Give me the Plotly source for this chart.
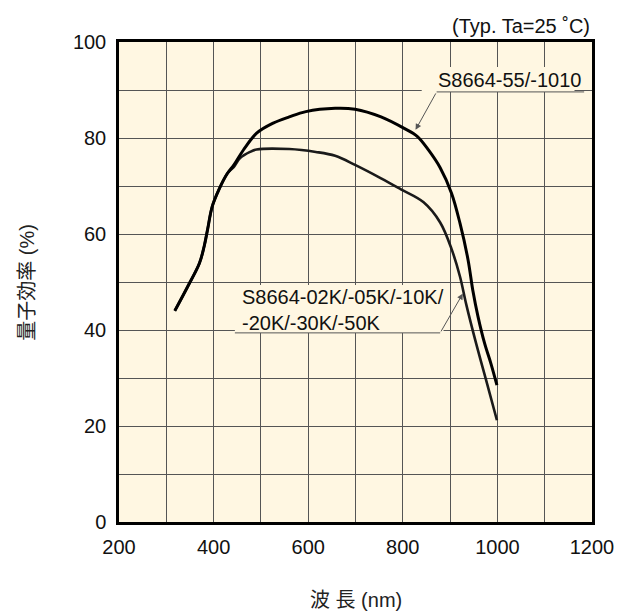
import plotly.graph_objects as go

# Wavelength (nm) and quantum efficiency (%)
wl_55 = [318, 345, 370, 380, 387, 397, 411, 429, 443, 463, 491, 526, 560, 595, 657, 699,
         754, 803, 831, 855, 879, 903, 921, 938, 948, 959, 973, 986, 999]
qe_55 = [44.0, 49.0, 53.9, 57.4, 60.8, 65.7, 69.2, 72.6, 74.4, 77.5, 81.0, 83.1, 84.4, 85.5, 86.2, 86.0,
         84.4, 82.0, 80.3, 77.4, 73.8, 68.5, 62.2, 54.6, 48.3, 42.8, 37.2, 33.1, 28.5]

wl_k = [318, 345, 370, 380, 387, 397, 411, 429, 443, 456, 477, 491, 560, 616, 657, 699,
        754, 796, 844, 879, 903, 921, 934, 955, 976, 999]
qe_k = [44.0, 49.0, 53.9, 57.4, 60.8, 65.7, 69.2, 72.6, 74.0, 75.8, 77.1, 77.6, 77.7, 77.1, 76.3, 74.4,
        71.6, 69.3, 66.6, 62.4, 56.9, 51.1, 45.4, 37.2, 29.6, 21.2]

label_55 = "S8664-55/-1010"
label_k = "S8664-02K/-05K/-10K/<br>-20K/-30K/-50K"
note = "(Typ. Ta=25 ˚C)"
x_title = "波 長 (nm)"
y_title = "量子効率 (%)"

FONT = "Liberation Sans, Arial, Noto Sans CJK JP, sans-serif"
BG = "#FFF7E2"
GRID = "#555555"
FS = 20

fig = go.Figure()
fig.add_trace(go.Scatter(x=wl_k, y=qe_k, mode="lines",
                         line=dict(color="#1a1a1a", width=2.6, shape="spline", smoothing=1.0),
                         showlegend=False, hoverinfo="skip"))
fig.add_trace(go.Scatter(x=wl_55, y=qe_55, mode="lines",
                         line=dict(color="#000000", width=3, shape="spline", smoothing=1.0),
                         showlegend=False, hoverinfo="skip"))

axis_common = dict(showline=True, linecolor="black", linewidth=2.5, mirror=True,
                   showgrid=True, gridcolor=GRID, gridwidth=1, zeroline=False,
                   ticks="outside", tickcolor="rgba(0,0,0,0)",
                   tickfont=dict(family=FONT, size=FS, color="#111"))

fig.update_xaxes(range=[200, 1200], dtick=200, tick0=200, ticklen=5,
                 minor=dict(dtick=100, showgrid=True, gridcolor=GRID, gridwidth=1),
                 **axis_common)
fig.update_yaxes(range=[0, 100], dtick=20, ticklen=6,
                 minor=dict(dtick=10, showgrid=True, gridcolor=GRID, gridwidth=1),
                 **axis_common)

ann = []
ann.append(dict(x=1026, y=92.1, xref="x", yref="y", text=label_55, showarrow=False,
                font=dict(family=FONT, size=FS, color="#111"),
                xanchor="center", yanchor="middle"))
ann.append(dict(x=827, y=81.7, ax=871.5, ay=89.6, xref="x", yref="y", axref="x", ayref="y",
                text="", showarrow=True, arrowhead=2, arrowsize=1.2, arrowwidth=1, arrowcolor="#555"))
ann.append(dict(x=455, y=44.2, xref="x", yref="y", text=label_k, showarrow=False, align="left",
                font=dict(family=FONT, size=FS, color="#111"),
                xanchor="left", yanchor="middle"))
ann.append(dict(x=927, y=47.6, ax=879, ay=39.4, xref="x", yref="y", axref="x", ayref="y",
                text="", showarrow=True, arrowhead=2, arrowsize=1.2, arrowwidth=1, arrowcolor="#555"))
ann.append(dict(x=1, y=1, xref="paper", yref="paper", yshift=3, text=note, showarrow=False,
                font=dict(family=FONT, size=FS, color="#111"), xanchor="right", yanchor="bottom"))
ann.append(dict(x=0.5, y=-0.162, xref="paper", yref="paper", text=x_title, showarrow=False,
                font=dict(family=FONT, size=FS, color="#222"), xanchor="center", yanchor="middle"))
ann.append(dict(x=-0.195, y=0.5, xref="paper", yref="paper", text=y_title, showarrow=False,
                textangle=-90, font=dict(family=FONT, size=FS, color="#222"),
                xanchor="center", yanchor="middle"))

shapes = [
    dict(type="rect", xref="x", yref="y", x0=840, x1=1163, y0=89.6, y1=94.8,
         fillcolor=BG, line=dict(width=0), layer="between"),
    dict(type="rect", xref="x", yref="y", x0=445, x1=886, y0=39.4, y1=49.4,
         fillcolor=BG, line=dict(width=0), layer="between"),
    dict(type="line", xref="x", yref="y", x0=871.5, y0=89.6, x1=1183.4, y1=89.6,
         line=dict(color="#555", width=1), layer="above"),
    dict(type="line", xref="x", yref="y", x0=445, y0=39.4, x1=879, y1=39.4,
         line=dict(color="#555", width=1), layer="above"),
]

fig.update_layout(width=626, height=615, margin=dict(l=119, r=25, t=42, b=93),
                  paper_bgcolor="white", plot_bgcolor=BG,
                  annotations=ann, shapes=shapes, showlegend=False)

fig.write_html("out.html")
